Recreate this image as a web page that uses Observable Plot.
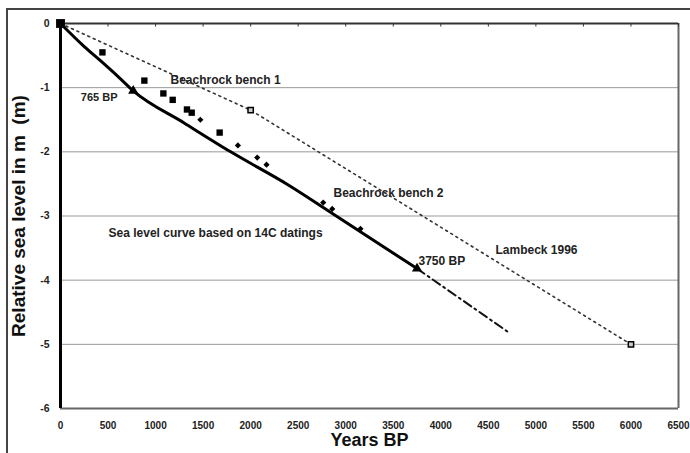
<!DOCTYPE html>
<html>
<head>
<meta charset="utf-8">
<script src="https://cdn.jsdelivr.net/npm/d3@7"></script>
<script src="https://cdn.jsdelivr.net/npm/@observablehq/plot@0.6"></script>
<style>
  html, body { margin: 0; padding: 0; background: #fff; }
  #wrap { position: relative; width: 690px; height: 453px; overflow: hidden; }
  #border { position: absolute; left: 6px; top: 8px; width: 700px; height: 460px;
            border-left: 2px solid #444; border-top: 2px solid #444; pointer-events: none; }
  svg { font-family: "Liberation Sans", Arial, sans-serif; }
</style>
</head>
<body>
<div id="wrap"><div id="border"></div></div>
<script>
// Beachrock bench 1 (filled squares)
const bench1Years = [441, 882, 1082, 1180, 1330, 1380, 1674];
const bench1Level = [-0.45, -0.89, -1.09, -1.19, -1.34, -1.39, -1.70];
// Beachrock bench 2 (small diamonds)
const bench2Years = [1471, 1866, 2069, 2167, 2763, 2858, 3155];
const bench2Level = [-1.50, -1.90, -2.09, -2.20, -2.79, -2.89, -3.20];
// Sea level curve based on 14C datings
const curveYears = [0, 250, 420, 600, 765, 1300, 1790, 2400, 2900, 3750];
const curveLevel = [0, -0.36, -0.58, -0.82, -1.05, -1.55, -2.0, -2.52, -3.0, -3.82];
// Extrapolated part of the curve (dash-dot)
const extYears = [3750, 4700];
const extLevel = [-3.82, -4.8];
// Dated points on the curve (triangles)
const anchorYears = [765, 3750];
const anchorLevel = [-1.05, -3.82];
// Lambeck 1996
const lambeckYears = [0, 2000, 6000];
const lambeckLevel = [0, -1.35, -5.0];
// Axis ticks
const xTicks = [0, 500, 1000, 1500, 2000, 2500, 3000, 3500, 4000, 4500, 5000, 5500, 6000, 6500];
const yTicks = [0, -1, -2, -3, -4, -5, -6];
const gridLevels = [-1, -2, -3, -4, -5];
// Annotations
const labelText = ["Beachrock bench 1", "Beachrock bench 2", "Sea level curve based on 14C datings", "3750 BP", "Lambeck 1996"];
const labelYears = [1157, 2871, 505, 3765, 4575];
const labelLevel = [-0.89, -2.65, -3.27, -3.71, -3.54];
const endLabelText = ["765 BP"];
const endLabelYears = [600];
const endLabelLevel = [-1.15];

const zip = (xs, ys) => xs.map((x, i) => ({x, y: ys[i]}));

const chart = Plot.plot({
  width: 690,
  height: 453,
  marginLeft: 60,
  marginRight: 12,
  marginTop: 23,
  marginBottom: 45,
  style: {background: "transparent", fontFamily: "'Liberation Sans', Arial, sans-serif", overflow: "visible"},
  x: {domain: [0, 6500], label: null},
  y: {domain: [-6, 0], label: null},
  marks: [
    Plot.ruleY(gridLevels, {stroke: "#999", strokeWidth: 1}),
    Plot.ruleY([-6], {stroke: "#666", strokeWidth: 2}),
    Plot.ruleX([6500], {stroke: "#666", strokeWidth: 2}),
    Plot.ruleY([0], {stroke: "#333", strokeWidth: 2}),
    Plot.ruleX(xTicks, {x: d => d, y1: 0, y2: -0.055, stroke: "#333", strokeWidth: 1}),
    Plot.ruleX([0], {stroke: "#000", strokeWidth: 3}),
    Plot.axisX({ticks: xTicks, tickFormat: d => String(d), tickSize: 0, tickPadding: 13, fontSize: 10, fontWeight: "bold", fill: "#222", label: null}),
    Plot.axisY({ticks: yTicks, tickFormat: d => String(d), tickSize: 0, tickPadding: 11, fontSize: 10.5, fontWeight: "bold", fill: "#222", label: null}),
    Plot.line(zip(lambeckYears, lambeckLevel), {x: "x", y: "y", stroke: "#333", strokeWidth: 1.6, strokeDasharray: "2,4"}),
    Plot.dot(zip(lambeckYears.slice(1), lambeckLevel.slice(1)), {x: "x", y: "y", symbol: "square", r: 3, fill: "#ccc", stroke: "#000", strokeWidth: 1.5}),
    Plot.line(zip(extYears, extLevel), {x: "x", y: "y", stroke: "#111", strokeWidth: 2, strokeDasharray: "9,4,2,4"}),
    Plot.line(zip(curveYears, curveLevel), {x: "x", y: "y", stroke: "#000", strokeWidth: 3, curve: "monotone-x"}),
    Plot.dot(zip(bench1Years, bench1Level), {x: "x", y: "y", symbol: "square", r: 3.6, fill: "#000"}),
    Plot.dot(zip(bench2Years, bench2Level), {x: "x", y: "y", symbol: "diamond2", r: 2.8, fill: "#000"}),
    Plot.dot(zip(anchorYears, anchorLevel), {x: "x", y: "y", symbol: "triangle", r: 3.8, fill: "#000"}),
    Plot.dot(zip([0], [0]), {x: "x", y: "y", symbol: "square", r: 5, fill: "#000"}),
    Plot.text(labelText.map((t, i) => ({t, x: labelYears[i], y: labelLevel[i]})),
      {x: "x", y: "y", text: "t", textAnchor: "start", fontSize: 12, fontWeight: "bold", fill: "#222"}),
    Plot.text(endLabelText.map((t, i) => ({t, x: endLabelYears[i], y: endLabelLevel[i]})),
      {x: "x", y: "y", text: "t", textAnchor: "end", fontSize: 11, fontWeight: "bold", fill: "#222"}),
    Plot.text(["Years BP"], {frameAnchor: "bottom", dy: 37, textAnchor: "middle", text: d => d, fontSize: 18, fontWeight: "bold", fill: "#111"}),
    Plot.text(["Relative sea level in m  (m)"], {frameAnchor: "left", dx: -42, rotate: -90, textAnchor: "middle", text: d => d, fontSize: 19, fontWeight: "bold", fill: "#111"})
  ]
});
document.getElementById("wrap").insertBefore(chart, document.getElementById("border"));
</script>
</body>
</html>
